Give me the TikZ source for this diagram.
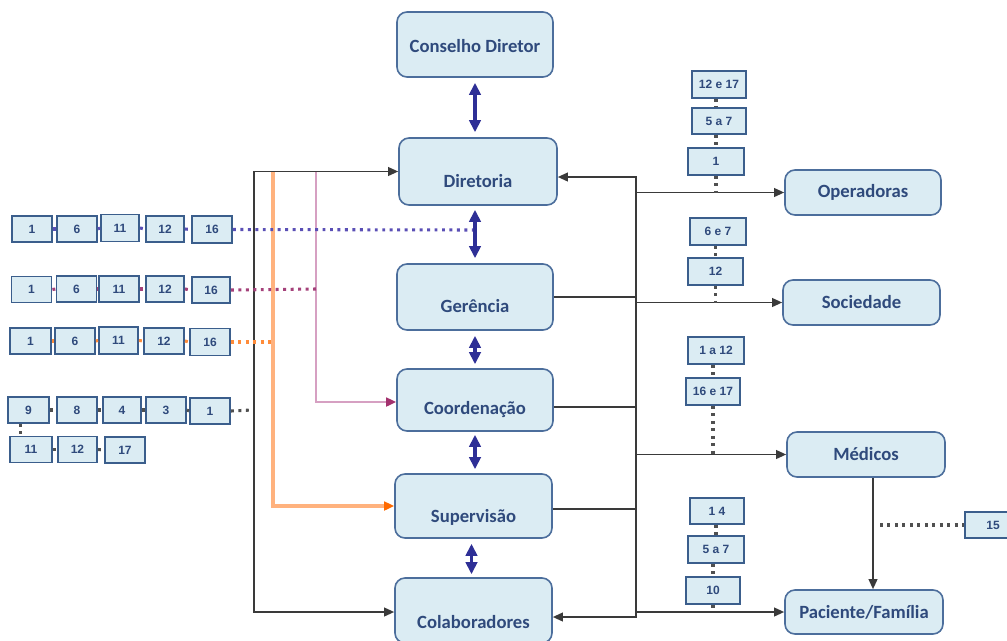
\documentclass[tikz,border=0pt]{standalone}
\usepackage{fontspec}
\newfontfamily\mainf{Carlito}
\newfontfamily\smallf{Liberation Sans}
\usetikzlibrary{arrows.meta,calc}
\definecolor{bfill}{HTML}{DBECF3}
\definecolor{bdraw}{HTML}{4C6E9C}
\definecolor{sdraw}{HTML}{3B5E8C}
\definecolor{tcol}{HTML}{2F4A7C}
\definecolor{dblue}{HTML}{2E2F96}
\definecolor{lgray}{HTML}{3A3A3A}
\definecolor{purp}{HTML}{5A4FB5}
\definecolor{mauve}{HTML}{A4417A}
\definecolor{orng}{HTML}{FF8C3A}
\definecolor{orline}{HTML}{FFB27E}
\definecolor{orhead}{HTML}{FF6A00}
\definecolor{pkline}{HTML}{D6A0C2}
\definecolor{pkhead}{HTML}{A3326E}
\definecolor{dgray}{HTML}{505050}
\def\px{0.75pt}
\begin{document}
\begin{tikzpicture}[x=0.75pt,y=-0.75pt,
 mainbox/.style={draw=bdraw,fill=bfill,line width=1.2pt,rounded corners=7.5pt,inner sep=0pt},
 mtext/.style={font=\mainf\bfseries\fontsize{14}{16}\selectfont,text=tcol,inner sep=0pt},
 sbox/.style={draw=sdraw,fill=bfill,line width=1.4pt,inner sep=0pt,minimum width=40*\px,minimum height=26*\px,font=\smallf\bfseries\fontsize{9}{10}\selectfont,text=tcol},
 conn/.style={draw=lgray,line width=1.3pt},
 tipe/.style={-{Triangle[length=7.5pt,width=6.5pt]}},
 tipb/.style={{Triangle[length=7.5pt,width=6.5pt]}-{Triangle[length=7.5pt,width=6.5pt]}},
 dbl/.style={draw=dblue,line width=2.6pt,{Triangle[length=9pt,width=8.5pt]}-{Triangle[length=9pt,width=8.5pt]}},
 dots/.style={line width=2.3pt,dash pattern=on 2.2pt off 3.4pt},
]
\useasboundingbox (0,0) rectangle (1007,640);
\clip (0,0) rectangle (1007,640);

% main column
\node[mainbox,minimum width=156*\px,minimum height=65*\px] (cd) at (475,44.5) {};
\node[mtext] (cdt) at (475,46) {Conselho Diretor};
\node[mainbox,minimum width=158*\px,minimum height=67*\px] (dir) at (478,171.5) {};
\node[mtext] (dirt) at (478,181) {Diretoria};
\node[mainbox,minimum width=156*\px,minimum height=66*\px] (ger) at (475,297) {};
\node[mtext] (gert) at (475,306) {Gerência};
\node[mainbox,minimum width=156*\px,minimum height=62*\px] (coo) at (475,400) {};
\node[mtext] (coot) at (475,410) {Coordenação};
\node[mainbox,minimum width=157*\px,minimum height=64*\px] (sup) at (473.5,506) {};
\node[mtext] (supt) at (473.5,517) {Supervisão};
\node[mainbox,minimum width=157*\px,minimum height=65*\px] (col) at (473.5,610.5) {};
\node[mtext] (colt) at (473.5,622) {Colaboradores};

% right boxes
\node[mainbox,mtext,draw=bdraw,fill=bfill,minimum width=156*\px,minimum height=45*\px] (ope) at (863,192.5) {Operadoras};
\node[mainbox,mtext,draw=bdraw,fill=bfill,minimum width=157*\px,minimum height=45*\px] (soc) at (861.5,302.5) {Sociedade};
\node[mainbox,mtext,draw=bdraw,fill=bfill,minimum width=158*\px,minimum height=45*\px] (med) at (866,454.5) {Médicos};
\node[mainbox,mtext,draw=bdraw,fill=bfill,minimum width=158*\px,minimum height=44*\px] (pac) at (864,612) {Paciente/Família};
\node[sbox,minimum width=56*\px] (b15) at (993,525) {15};

% double arrows
\draw[dbl] ($(cd.south)+(0,5)$) -- ($(cd.south |- dir.north)+(0,-5)$);
\draw[dbl] ($(ger.north |- dir.south)+(0,4)$) -- ($(ger.north)+(0,-5)$);
\draw[dbl] ($(ger.south)+(0,5)$) -- ($(coo.north)+(0,-4)$);
\draw[dbl] ($(coo.south)+(0,3)$) -- ($(coo.south |- sup.north)+(0,-4)$);
\draw[dbl] ($(sup.south)+(-2,5)$) -- ($(sup.south |- col.north)+(-2,-3)$);

% left connectors
\coordinate (L1) at (254,400);
\coordinate (O1) at (273,172);
\coordinate (P1) at (316,172);
\draw[conn,tipb] (dir.west) -| (L1) |- ($(col.west)+(0,1.5)$);
\draw[orline,line width=2.4pt,-{Triangle[length=7.5pt,width=6.5pt,color=orhead]}] (O1) |- (sup.west);
\draw[pkline,line width=2.1pt,-{Triangle[length=7.5pt,width=6.5pt,color=pkhead]}] (P1) |- ($(coo.west)+(0,2)$);

% left small boxes
\node[sbox] (r1a) at (32,229) {1};
\node[sbox] (r1b) at (77,229) {6};
\node[sbox,minimum width=38*\px,minimum height=27*\px] (r1c) at (120,228) {11};
\node[sbox,minimum width=38*\px] (r1d) at (165,229) {12};
\node[sbox,minimum height=27*\px] (r1e) at (212,229.5) {16};

\node[sbox] (r2a) at (31.5,289.5) {1};
\node[sbox] (r2b) at (76.5,289) {6};
\node[sbox] (r2c) at (119,289) {11};
\node[sbox,minimum width=38*\px] (r2d) at (165,289) {12};
\node[sbox,minimum width=38*\px] (r2e) at (211,290) {16};

\node[sbox,minimum width=41*\px] (r3a) at (30.5,341) {1};
\node[sbox] (r3b) at (75,341) {6};
\node[sbox,minimum width=39*\px,minimum height=27*\px] (r3c) at (118.5,340.5) {11};
\node[sbox] (r3d) at (164,341) {12};
\node[sbox,minimum height=27*\px] (r3e) at (210,342) {16};

\node[sbox,minimum width=41*\px] (r4a) at (28.5,410) {9};
\node[sbox] (r4b) at (77,410) {8};
\node[sbox,minimum width=38*\px] (r4c) at (122,410) {4};
\node[sbox] (r4d) at (166,410) {3};
\node[sbox] (r4e) at (210,411) {1};

\node[sbox,minimum width=42*\px] (r5a) at (31,449.5) {11};
\node[sbox,minimum width=39*\px] (r5b) at (77.5,449.5) {12};
\node[sbox] (r5c) at (125,450) {17};

\coordinate (D1) at (473,230);
\coordinate (D2) at (316,289);
\coordinate (D3) at (271,342);
\coordinate (D4) at (252,410);
\draw[dots,purp] (r1a.east) -- (r1b.west);
\draw[dots,purp] (r1b.east) -- (r1c.west);
\draw[dots,purp] (r1c.east) -- (r1d.west);
\draw[dots,purp] (r1d.east) -- (r1e.west);
\draw[dots,purp] (r1e.east) -- (D1);
\draw[dots,mauve] (r2a.east) -- (r2b.west);
\draw[dots,mauve] (r2b.east) -- (r2c.west);
\draw[dots,mauve] (r2c.east) -- (r2d.west);
\draw[dots,mauve] (r2d.east) -- (r2e.west);
\draw[dots,mauve] (r2e.east) -- (D2);
\draw[dots,orng] (r3a.east) -- (r3b.west);
\draw[dots,orng] (r3b.east) -- (r3c.west);
\draw[dots,orng] (r3c.east) -- (r3d.west);
\draw[dots,orng] (r3d.east) -- (r3e.west);
\draw[dots,orng] (r3e.east) -- (D3);
\draw[dots,dgray] (r4a.east) -- (r4b.west);
\draw[dots,dgray] (r4b.east) -- (r4c.west);
\draw[dots,dgray] (r4c.east) -- (r4d.west);
\draw[dots,dgray] (r4d.east) -- (r4e.west);
\draw[dots,dgray] (r4e.east) -- (D4);
\draw[dots,dgray] ($(r4a.south)+(-8,0)$) -- ($(r4a.south |- r5a.north)+(-8,0)$);
\draw[dots,dgray] (r5a.east) -- (r5b.west);
\draw[dots,dgray] (r5b.east) -- (r5c.west);

% right connectors
\coordinate (R1) at (636,400);
\draw[conn,tipb] ($(dir.east)+(0,5.5)$) -| (R1) |- ($(col.east)+(0,6.5)$);
\draw[conn,tipe] (ope.west -| R1) -- (ope.west);
\draw[conn] (ger.east) -- (ger.east -| R1);
\draw[conn,tipe] (soc.west -| R1) -- (soc.west);
\draw[conn] ($(coo.east)+(0,7)$) -- ($(coo.east -| R1)+(0,7)$);
\draw[conn,tipe] (med.west -| R1) -- (med.west);
\draw[conn] ($(sup.east)+(0,3)$) -- ($(sup.east -| R1)+(0,3)$);
\draw[conn,tipe] (pac.west -| R1) -- (pac.west);
\coordinate (MP) at (873,0);
\draw[conn,tipe] (med.south -| MP) -- (pac.north -| MP);
\coordinate (D15) at (880,525);
\draw[dots,dgray] (D15) -- (b15.west);

% right small boxes
\node[sbox,minimum width=54*\px,minimum height=27*\px] (a1) at (719,84.5) {12 e 17};
\node[sbox,minimum width=54*\px] (a2) at (719,121) {5 a 7};
\node[sbox,minimum width=56*\px,minimum height=27*\px] (a3) at (716,161.5) {1};
\node[sbox,minimum width=56*\px,minimum height=27*\px] (b1) at (718,231.5) {6 e 7};
\node[sbox,minimum width=55*\px,minimum height=27*\px] (b2) at (715.5,271.5) {12};
\node[sbox,minimum width=56*\px,minimum height=27*\px] (c1) at (716,350.5) {1 a 12};
\node[sbox,minimum width=54*\px,minimum height=27*\px] (c2) at (713,391.5) {16 e 17};
\node[sbox,minimum width=54*\px] (d1) at (717,511) {1 4};
\node[sbox,minimum width=56*\px,minimum height=27*\px] (d2) at (716,549.5) {5 a 7};
\node[sbox,minimum width=54*\px,minimum height=27*\px] (d3) at (713,590.5) {10};

\draw[dots,dgray] (a1.south -| a3.center) -- (a2.north -| a3.center);
\draw[dots,dgray] (a2.south -| a3.center) -- (a3.north);
\draw[dots,dgray] (a3.south) -- (a3.south |- ope.west);
\draw[dots,dgray] (b1.south -| b2.center) -- (b2.north);
\draw[dots,dgray] (b2.south) -- (b2.south |- soc.west);
\draw[dots,dgray] (c1.south -| c2.center) -- (c2.north);
\draw[dots,dgray] (c2.south) -- (c2.south |- med.west);
\draw[dots,dgray] (d1.south -| d2.center) -- (d2.north);
\draw[dots,dgray] (d2.south -| d3.center) -- (d3.north);
\draw[dots,dgray] (d3.south) -- (d3.south |- pac.west);
\end{tikzpicture}
\end{document}
